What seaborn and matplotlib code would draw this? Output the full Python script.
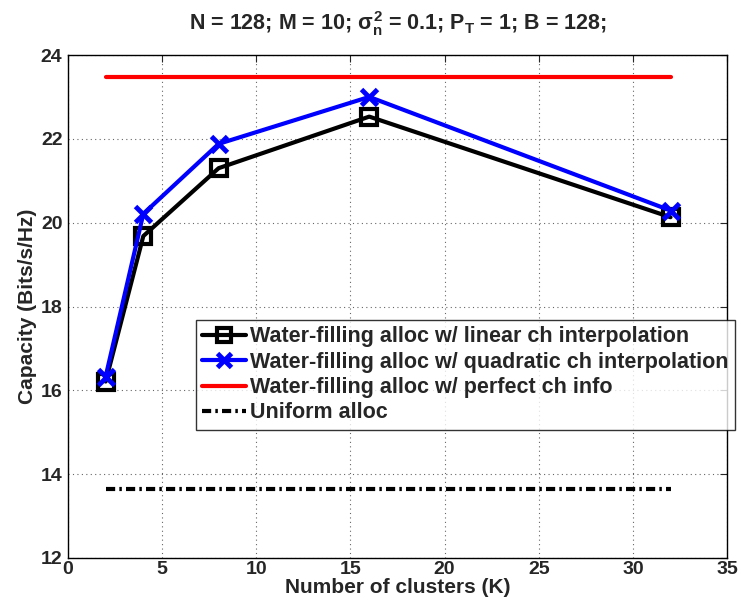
import matplotlib
matplotlib.use("Agg")
import matplotlib.pyplot as plt
import seaborn as sns
import pandas as pd
import numpy as np

clusters = [2, 4, 8, 16, 32]
linear_interp = [16.21, 19.68, 21.30, 22.53, 20.13]
quadratic_interp = [16.33, 20.21, 21.88, 23.00, 20.29]
perfect_info = [23.48, 23.48, 23.48, 23.48, 23.48]
uniform_alloc = [13.64, 13.64, 13.64, 13.64, 13.64]

labels = ["Water-filling alloc w/ linear ch interpolation",
          "Water-filling alloc w/ quadratic ch interpolation",
          "Water-filling alloc w/ perfect ch info",
          "Uniform alloc"]

sns.set_style("white")
plt.rcParams['font.family'] = ['Liberation Sans', 'DejaVu Sans']
plt.rcParams['font.weight'] = 'bold'
plt.rcParams['mathtext.fontset'] = 'custom'
plt.rcParams['mathtext.rm'] = 'Liberation Sans:bold'
plt.rcParams['mathtext.it'] = 'Liberation Sans:bold'
plt.rcParams['mathtext.bf'] = 'Liberation Sans:bold'

df = pd.DataFrame({
    "K": clusters * 4,
    "C": linear_interp + quadratic_interp + perfect_info + uniform_alloc,
    "series": sum([[l] * len(clusters) for l in labels], []),
})

fig = plt.figure(figsize=(7.41, 6.07), dpi=100)
ax = fig.add_axes([68 / 741, 1 - 558 / 607, (727 - 68) / 741, (558 - 55) / 607])

styles = [
    dict(color="black", lw=3, marker="s", ms=12, mfc="none", mec="black", mew=3, ls="-"),
    dict(color="blue", lw=3, marker="x", ms=12, mec="blue", mew=3.5, ls="-"),
    dict(color="red", lw=3, ls="-"),
    dict(color="black", lw=3, ls=(0, (2.2, 1.0, 0.6, 1.0))),
]
for lab, st in zip(labels, styles):
    sub = df[df["series"] == lab]
    ls = st.pop("ls")
    sns.lineplot(data=sub, x="K", y="C", ax=ax, label=lab, linestyle=ls, **st)

ax.set_xlim(0, 35)
ax.set_ylim(12, 24)
ax.set_xticks(np.arange(0, 36, 5))
ax.set_yticks(np.arange(12, 25, 2))
ax.grid(True, linestyle=(0, (1, 3)), color="black", lw=0.8, alpha=0.6)
ax.tick_params(direction="in", top=True, right=True, labelsize=14, length=5)
ax.tick_params(axis="x", pad=2)
ax.tick_params(axis="y", pad=4)
for lbl in ax.get_xticklabels() + ax.get_yticklabels():
    lbl.set_fontweight("bold")
for s in ax.spines.values():
    s.set_color("black")
    s.set_linewidth(1)

ax.set_xlabel("Number of clusters (K)", fontsize=15, fontweight="bold", labelpad=0)
ax.set_ylabel("Capacity (Bits/s/Hz)", fontsize=15, fontweight="bold", labelpad=3)
ax.set_title(r"N = 128; M = 10; $\sigma_n^2$ = 0.1; P$_T$ = 1; B = 128;",
             fontsize=15.5, fontweight="bold", pad=18)

leg = ax.legend(loc="upper left", bbox_to_anchor=(196 / 741, 1 - 320 / 607),
                bbox_transform=fig.transFigure, fontsize=15.5, frameon=True,
                fancybox=False, edgecolor="black", handlelength=2.0,
                handletextpad=0.2, borderpad=0.3, labelspacing=0.2,
                borderaxespad=0, markerscale=0.85)
leg.get_frame().set_linewidth(1)
for t in leg.get_texts():
    t.set_fontweight("bold")

fig.savefig("out.png", dpi=100)
